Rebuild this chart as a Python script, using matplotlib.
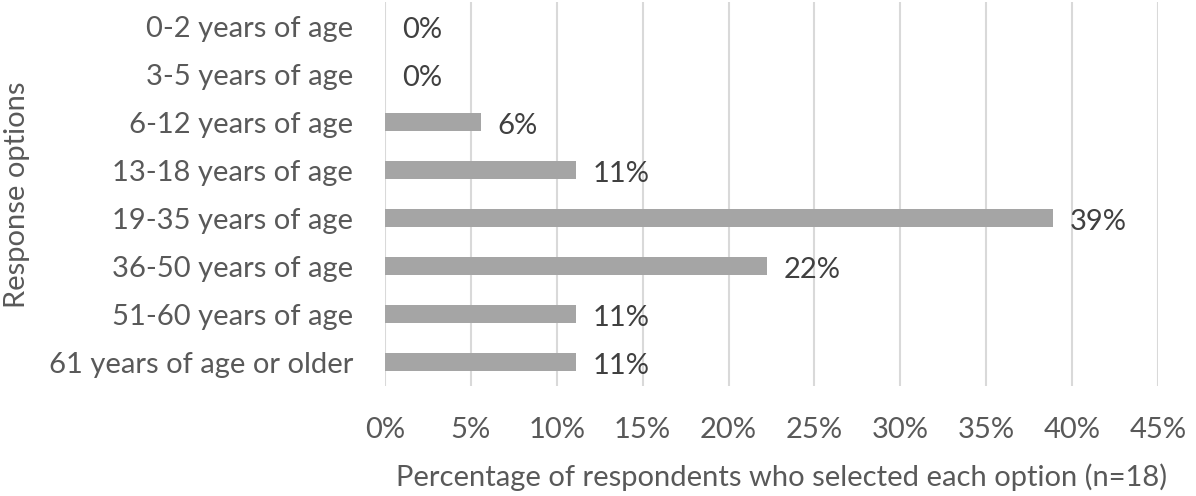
import numpy as np
import matplotlib
matplotlib.use('Agg')
import matplotlib.pyplot as plt
from matplotlib.ticker import MultipleLocator, FuncFormatter

plt.rcParams['font.family'] = ['Lato', 'DejaVu Sans']

categories = ['0-2 years of age', '3-5 years of age', '6-12 years of age', '13-18 years of age',
              '19-35 years of age', '36-50 years of age', '51-60 years of age',
              '61 years of age or older']
# percentage of 18 respondents
values = [0.0, 0.0, 5.56, 11.11, 38.89, 22.22, 11.11, 11.11]
value_labels = ['0%', '0%', '6%', '11%', '39%', '22%', '11%', '11%']

text_col = '#595959'
fs = 21

fig = plt.figure(figsize=(11.96, 4.96), dpi=100)
ax = fig.add_axes([385/1196, 1 - 386/496, (1158-385)/1196, 384/496])

y = np.arange(len(categories))
ax.barh(y, values, height=0.38, color='#A5A5A5', zorder=3)
for yi, v, lab in zip(y, values, value_labels):
    ax.text(v + 1.0, yi + 0.08, lab, va='center', ha='left', fontsize=fs, color='#404040')

ax.set_ylim(len(categories) - 0.5, -0.5)
ax.set_yticks(y)
ax.set_yticklabels(categories, fontsize=fs, color=text_col)
ax.set_xlim(0, 45)
ax.xaxis.set_major_locator(MultipleLocator(5))
ax.xaxis.set_major_formatter(FuncFormatter(lambda v, p: f'{v:.0f}%'))
ax.tick_params(axis='x', labelsize=fs, colors=text_col, length=0, pad=22)
ax.tick_params(axis='y', length=0, pad=23)
ax.grid(axis='x', color='#D9D9D9', linewidth=1.5, zorder=0)
for s in ax.spines.values():
    s.set_visible(False)

ax.set_xlabel('Percentage of respondents who selected each option (n=18)', fontsize=fs,
              color=text_col, labelpad=15)
ax.xaxis.label.set_x(0.513)
fig.text(17/1196, 1 - 195/496, 'Response options', rotation=90, fontsize=fs, color=text_col,
         ha='center', va='center')

fig.savefig('out.png', dpi=100)
